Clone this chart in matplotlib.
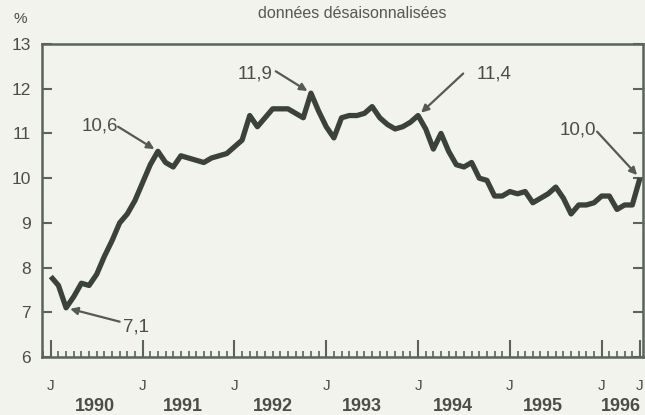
import matplotlib
matplotlib.use("Agg")
import matplotlib.pyplot as plt
from matplotlib.ticker import MultipleLocator, FixedLocator

plt.rcParams['font.family'] = ['Liberation Sans', 'DejaVu Sans']

# Monthly values, January 1990 to June 1996
values = [
    7.8, 7.6, 7.1, 7.35, 7.65, 7.6, 7.85, 8.25, 8.6, 9.0, 9.2, 9.5,          # 1990
    9.9, 10.3, 10.6, 10.35, 10.25, 10.5, 10.45, 10.4, 10.35, 10.45, 10.5, 10.55,  # 1991
    10.7, 10.85, 11.4, 11.15, 11.35, 11.55, 11.55, 11.55, 11.45, 11.35, 11.9, 11.5,  # 1992
    11.15, 10.9, 11.35, 11.4, 11.4, 11.45, 11.6, 11.35, 11.2, 11.1, 11.15, 11.25,  # 1993
    11.4, 11.1, 10.65, 11.0, 10.6, 10.3, 10.25, 10.35, 10.0, 9.95, 9.6, 9.6,   # 1994
    9.7, 9.65, 9.7, 9.45, 9.55, 9.65, 9.8, 9.55, 9.2, 9.4, 9.4, 9.45,          # 1995
    9.6, 9.6, 9.3, 9.4, 9.4, 10.0,                                            # 1996
]
months = list(range(len(values)))

years = ["1990", "1991", "1992", "1993", "1994", "1995", "1996"]
year_label_pos = [5.8, 17.3, 29.0, 40.6, 52.5, 64.3, 74.5]
major_ticks = [0, 12, 24, 36, 48, 60, 72, 77]
major_labels = ["J"] * len(major_ticks)
y_ticks = [6, 7, 8, 9, 10, 11, 12, 13]

# annotations: month index of the pointed value, label, text position, arrow start
annot_months = [2, 14, 34, 48, 77]
annot_labels = ["7,1", "10,6", "11,9", "11,4", "10,0"]
annot_text_pos = [(11.1, 6.68), (6.4, 11.17), (26.7, 12.34), (57.9, 12.34), (68.9, 11.08)]
annot_arrow_start = [(9.0, 6.79), (8.8, 11.15), (29.4, 12.39), (53.9, 12.34), (71.4, 11.04)]

bg = '#f3f3ee'
txt = '#4a4d49'
line_c = '#3b423a'
frame_c = '#5b6459'

fig = plt.figure(figsize=(6.45, 4.15), dpi=100, facecolor=bg)
ax = fig.add_axes([42/645, 1 - 357/415, (643 - 42)/645, (357 - 44)/415])
ax.set_facecolor(bg)

ax.plot(months, values, color=line_c, lw=3.8, solid_joinstyle='round',
        solid_capstyle='butt', zorder=3)

ax.set_xlim(-1.15, 77.4)
ax.set_ylim(6, 13)

for s in ax.spines.values():
    s.set_color(frame_c)
    s.set_linewidth(1.8)

ax.yaxis.set_major_locator(FixedLocator(y_ticks))
ax.tick_params(axis='y', which='major', direction='in', length=7, width=1.5,
               color=frame_c, labelsize=12.5, labelcolor=txt, pad=8,
               left=True, right=True, labelleft=True, labelright=False)

ax.xaxis.set_major_locator(FixedLocator(major_ticks))
ax.xaxis.set_minor_locator(MultipleLocator(1))
ax.set_xticklabels(major_labels)
ax.tick_params(axis='x', which='major', direction='in', length=12, width=1.5,
               color=frame_c, labelsize=11, labelcolor=txt, pad=16)
ax.tick_params(axis='x', which='minor', direction='in', length=4.5, width=1.2,
               color=frame_c)

for pos, yr in zip(year_label_pos, years):
    ax.annotate(yr, xy=(pos, 0), xycoords=('data', 'axes fraction'),
                xytext=(0, -35.5), textcoords='offset points', ha='center',
                va='center', fontsize=13, fontweight='bold', color=txt,
                annotation_clip=False)

for m, lab, tp, st in zip(annot_months, annot_labels, annot_text_pos, annot_arrow_start):
    ax.text(tp[0], tp[1], lab, fontsize=13.5, color=txt, ha='center',
            va='center', zorder=4)
    ax.annotate('', xy=(months[m], values[m]), xytext=st, textcoords='data',
                arrowprops=dict(arrowstyle='-|>', color='#555a54', lw=1.6,
                                mutation_scale=11, shrinkA=0, shrinkB=3),
                zorder=4)

fig.text(352/645, 1 - 13/415, "données désaisonnalisées", ha='center', va='center',
         fontsize=11.5, color='#55594f')
fig.text(20/645, 1 - 19/415, "%", ha='center', va='center', fontsize=11,
         color=txt)

fig.savefig("out.png", dpi=100, facecolor=bg)
